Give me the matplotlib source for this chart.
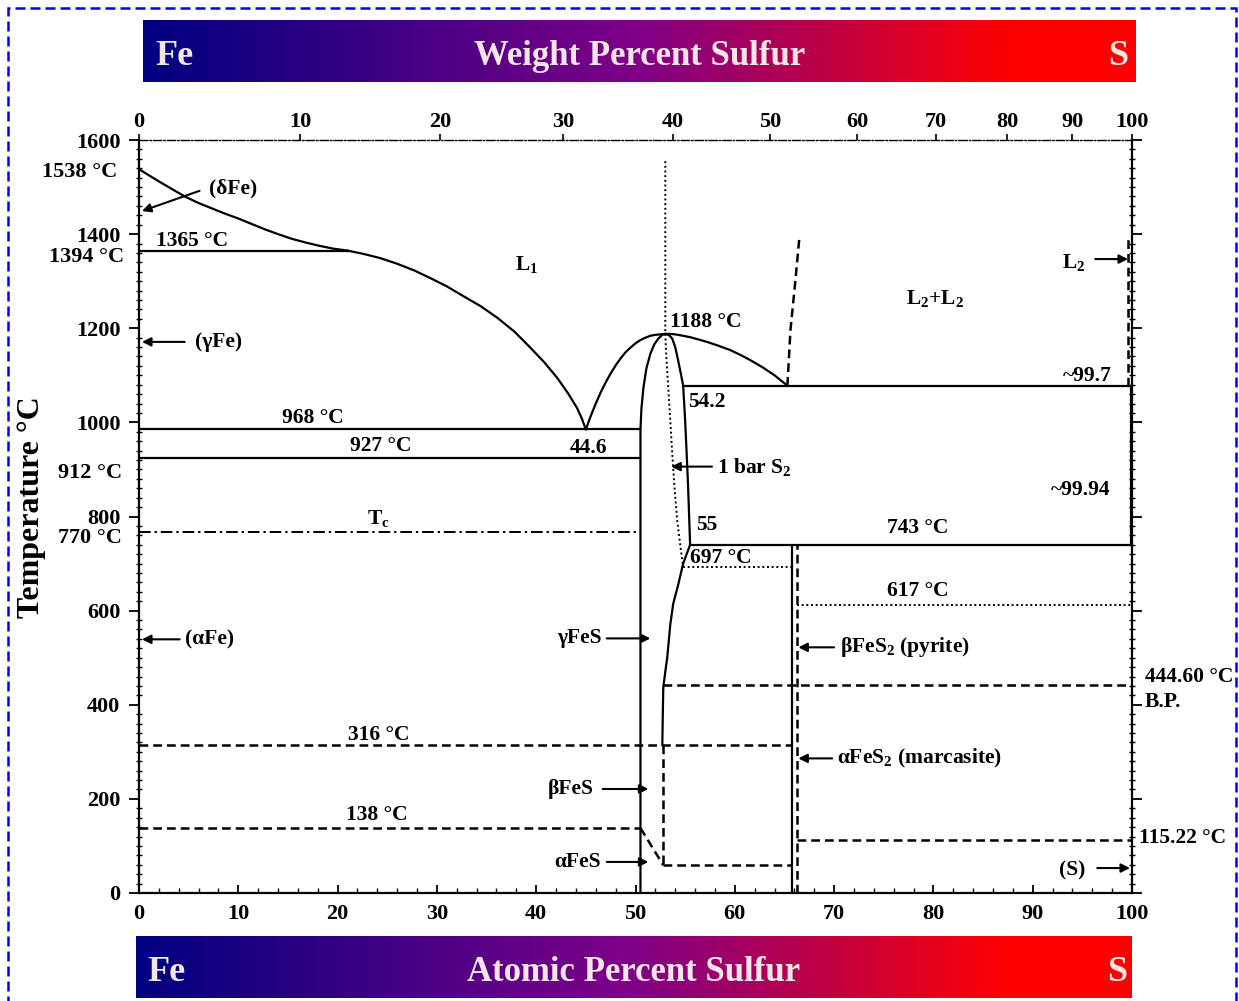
import numpy as np
import matplotlib
matplotlib.use('Agg')
import matplotlib.pyplot as plt
from matplotlib.colors import LinearSegmentedColormap
from matplotlib.patches import Rectangle

plt.rcParams['font.family'] = ['Liberation Serif', 'DejaVu Serif']
plt.rcParams['font.weight'] = 'bold'
plt.rcParams['mathtext.fontset'] = 'custom'
plt.rcParams['mathtext.rm'] = 'Liberation Serif:bold'
plt.rcParams['mathtext.it'] = 'Liberation Serif:bold'
plt.rcParams['mathtext.bf'] = 'Liberation Serif:bold'

# ---------------- data (atomic % S, temperature °C) ----------------
delta_liq_x = [0, 1.0, 2.0, 3.3, 4.7, 6.0, 7.3, 8.6, 9.9, 11.3, 12.7, 14.0, 15.4, 16.8, 18.2, 19.6, 21.0]
delta_liq_T = [1538, 1525, 1512, 1496, 1479, 1466, 1455, 1444, 1434, 1422, 1410, 1400, 1390, 1382, 1375, 1369, 1365]
L1_liq_x = [21.0, 22.6, 24.3, 26.0, 27.7, 29.3, 31.0, 32.6, 34.4, 36.1, 37.8, 39.4,
            40.8, 42.1, 43.2, 44.1, 44.6, 45.0]
L1_liq_T = [1365, 1358, 1349, 1337, 1323, 1307, 1289, 1269, 1247, 1222, 1193, 1159,
            1128, 1095, 1062, 1031, 1008, 985]
FeS_liq_left_x = [45.0, 45.5, 46.0, 46.5, 47.0, 47.5, 48.0, 48.5, 49.0, 49.5, 50.0,
                  50.5, 51.0, 51.5, 52.0, 52.5, 53.0]
FeS_liq_left_T = [985, 1014, 1040, 1064, 1085, 1104, 1121, 1136, 1149, 1159, 1168,
                  1175, 1180, 1184, 1186, 1187, 1188]
FeS_liq_right_x = [53.0, 53.5, 54.0, 54.8, 55.5, 56.2, 57.2, 58.2, 59.5, 60.5, 61.5,
                   62.8, 64.0, 65.3]
FeS_liq_right_T = [1188, 1188, 1187, 1184, 1181, 1177, 1171, 1164, 1154, 1144, 1133,
                   1117, 1100, 1078]
miscib_x = [65.3, 65.6, 66.1, 66.5]
miscib_T = [1078, 1195, 1301, 1392]
FeS_fe_side_x = [50.5, 50.5, 50.6, 50.8, 51.1, 51.5, 51.9, 52.3, 52.7, 53.0]
FeS_fe_side_T = [0, 985, 1030, 1074, 1115, 1146, 1166, 1178, 1186, 1188]
FeS_s_side_x = [53.0, 53.4, 53.7, 54.0, 54.3, 54.6, 54.8, 55.0, 55.15, 55.3, 55.5,
                54.8, 54.3, 53.8, 53.5, 53.2, 53.0, 52.8, 52.75, 52.7]
FeS_s_side_T = [1188, 1185, 1178, 1160, 1131, 1100, 1078, 1004, 935, 862, 740,
                700, 655, 615, 570, 501, 470, 437, 380, 314]
FeS_s_low_x = [52.8, 52.8]
FeS_s_low_T = [314, 59]
bar_S2_x = [53.0, 53.0, 53.1, 53.3, 53.5, 53.7, 53.9, 54.2, 54.5, 54.8]
bar_S2_T = [1555, 1188, 1140, 1074, 1005, 934, 870, 792, 740, 693]
FeS_trans_x = [50.5, 52.8]
FeS_trans_T = [138, 59]
pyrite_x = [65.8, 65.8]
pyrite_T = [0, 740]
marcasite_x = [66.3, 66.3]
marcasite_T = [0, 740]
L2_x = [99.6, 99.6]
L2_T = [1078, 1392]
S_side_x = [99.85, 99.85]
S_side_T = [740, 1078]

# isotherms: temperature, start, end
solid_iso_T = [1365, 985, 925, 1078, 740]
solid_iso_x0 = [0, 0, 0, 54.8, 55.5]
solid_iso_x1 = [21.0, 50.5, 50.5, 100, 100]
dashed_iso_T = [314, 138, 59, 442, 112]
dashed_iso_x0 = [0, 0, 52.8, 52.8, 66.3]
dashed_iso_x1 = [65.8, 50.5, 65.8, 100, 100]
dotted_iso_T = [693, 612]
dotted_iso_x0 = [54.8, 66.3]
dotted_iso_x1 = [65.8, 100]
curie_T = 768
curie_x0, curie_x1 = 0, 50.5

temp_ticks = [0, 200, 400, 600, 800, 1000, 1200, 1400, 1600]
at_ticks = [0, 10, 20, 30, 40, 50, 60, 70, 80, 90, 100]
wt_ticks = [0, 10, 20, 30, 40, 50, 60, 70, 80, 90, 100]

M_FE, M_S = 55.845, 32.06


def wt_to_at(w):
    w = np.asarray(w, dtype=float)
    s = w / M_S
    f = (100 - w) / M_FE
    return 100 * s / (s + f)


W, H = 1239, 1001
fig = plt.figure(figsize=(W / 100, H / 100), dpi=100)

# outer dashed blue frame
fig.patches.append(Rectangle((8 / W, -0.01), (1236 - 8) / W, 1 - 8 / H + 0.01,
                             transform=fig.transFigure, fill=False, edgecolor='#0000ff',
                             lw=1.8, linestyle=(0, (4, 2))))

ax = fig.add_axes([139 / W, 1 - 893 / H, 993 / W, 753 / H])
ax.set_xlim(0, 100)
ax.set_ylim(0, 1600)

K = 'black'
LW = 1.6
DASH = (0, (3.5, 2.0))
DOT = (0, (1, 1.4))

def curve(x, T, **kw):
    ax.plot(x, T, color=K, solid_joinstyle='round', solid_capstyle='round', **kw)

curve(delta_liq_x, delta_liq_T, lw=LW)
curve(L1_liq_x, L1_liq_T, lw=LW)
curve(FeS_liq_left_x, FeS_liq_left_T, lw=LW)
curve(FeS_liq_right_x, FeS_liq_right_T, lw=LW)
curve(miscib_x, miscib_T, lw=1.8, linestyle=DASH)
curve(FeS_fe_side_x, FeS_fe_side_T, lw=LW)
curve(FeS_s_side_x, FeS_s_side_T, lw=LW)
curve(FeS_s_low_x, FeS_s_low_T, lw=1.8, linestyle=DASH)
curve(bar_S2_x, bar_S2_T, lw=1.4, linestyle=DOT)
curve(FeS_trans_x, FeS_trans_T, lw=1.8, linestyle=DASH)
curve(pyrite_x, pyrite_T, lw=LW)
curve(marcasite_x, marcasite_T, lw=1.8, linestyle=DASH)
curve(L2_x, L2_T, lw=1.8, linestyle=DASH)
curve(S_side_x, S_side_T, lw=LW)

for T, a, b in zip(solid_iso_T, solid_iso_x0, solid_iso_x1):
    ax.plot([a, b], [T, T], color=K, lw=LW)
for T, a, b in zip(dashed_iso_T, dashed_iso_x0, dashed_iso_x1):
    ax.plot([a, b], [T, T], color=K, lw=1.8, linestyle=DASH)
for T, a, b in zip(dotted_iso_T, dotted_iso_x0, dotted_iso_x1):
    ax.plot([a, b], [T, T], color=K, lw=1.4, linestyle=DOT)
ax.plot([curie_x0, curie_x1], [curie_T, curie_T], color=K, lw=1.4,
        linestyle=(0, (6, 2, 1.2, 2)))

# ---------------- axes styling ----------------
for s in ['left', 'bottom', 'right']:
    ax.spines[s].set_linewidth(1.6)
ax.spines['top'].set_linewidth(1.0)
ax.spines['top'].set_linestyle((0, (6, 1.5, 1, 1.5)))

ax.set_yticks(temp_ticks)
ax.set_yticks(np.arange(0, 1601, 20), minor=True)
ax.set_xticks(at_ticks)
ax.set_xticks(np.arange(0, 101, 2), minor=True)
ax.tick_params(axis='y', which='major', direction='out', length=7, width=1.3,
               labelsize=16, pad=6.5, right=True)
ax.tick_params(axis='y', which='minor', direction='inout', length=4, width=1.0, right=True)
ax.tick_params(axis='x', which='major', direction='in', length=6, width=1.3,
               labelsize=16, pad=8, top=True)
ax.tick_params(axis='x', which='minor', direction='in', length=3.5, width=1.0, top=True)
for lab in ax.get_xticklabels() + ax.get_yticklabels():
    lab.set_fontweight('bold')

ax2 = ax.twiny()
ax2.set_xlim(0, 100)
ax2.set_xticks(wt_to_at(wt_ticks))
ax2.set_xticklabels([str(v) for v in wt_ticks], fontsize=16, fontweight='bold')
ax2.tick_params(axis='x', direction='out', length=4.5, width=1.2, pad=1.0)
for s in ax2.spines.values():
    s.set_visible(False)

fig.text(32 / W, 1 - 507 / H, 'Temperature °C', rotation=90, fontsize=23,
         fontweight='bold', ha='center', va='center')

FS = 15.5
def txt(x, y, s, ha='center', va='center'):
    ax.text(x, y, s, ha=ha, va=va, fontsize=FS, fontweight='bold', clip_on=False)

# left temperature labels
for x, y, s in [(-2.2, 1532, '1538 °C'), (-1.5, 1352, '1394 °C'),
                (-1.7, 893, '912 °C'), (-1.7, 755, '770 °C')]:
    ax.text(x, y, s, ha='right', va='center', fontsize=16, fontweight='bold', clip_on=False)

txt(5.3, 1386, '1365 °C')
txt(39.0, 1335, 'L$_1$')
txt(17.5, 1010, '968 °C')
txt(24.3, 949, '927 °C')
txt(45.3, 946, '44.6')
txt(24.1, 796, 'T$_c$')
txt(24.1, 335, '316 °C')
txt(23.9, 166, '138 °C')
txt(57.1, 1214, '1188 °C')
txt(57.2, 1044, '54.2')
txt(57.2, 783, '55')
txt(58.6, 711, '697 °C')
txt(80.2, 1263, 'L$_2$+L$_2$')
txt(95.5, 1099, '~99.7')
txt(94.8, 857, '~99.94')
txt(78.4, 775, '743 °C')
txt(78.4, 641, '617 °C')
txt(101.3, 460, '444.60 °C', ha='left')
txt(101.3, 405, 'B.P.', ha='left')
txt(100.7, 117, '115.22 °C', ha='left')

AP = dict(arrowstyle='-|>', color='black', lw=1.5, mutation_scale=13, shrinkA=0, shrinkB=0)
def arrow(text, tx, ty, x0, y0, x1, y1, ha):
    ax.annotate('', xy=(x1, y1), xytext=(x0, y0), arrowprops=AP, annotation_clip=False)
    ax.text(tx, ty, text, ha=ha, va='center', fontsize=FS, fontweight='bold', clip_on=False)

arrow('(δFe)', 7.0, 1498, 6.1, 1492, 0.3, 1449, 'left')
arrow('(γFe)', 5.6, 1171, 4.6, 1171, 0.3, 1171, 'left')
arrow('(αFe)', 4.6, 539, 4.1, 539, 0.3, 539, 'left')
arrow('γFeS', 46.6, 541, 47.1, 541, 51.5, 541, 'right')
arrow('βFeS', 45.8, 221, 46.7, 221, 51.3, 221, 'right')
arrow('αFeS', 46.5, 66, 47.1, 66, 51.3, 66, 'right')
arrow('1 bar S$_2$', 58.2, 906, 57.7, 906, 53.6, 906, 'left')
arrow('βFeS$_2$ (pyrite)', 70.6, 522, 70.0, 522, 66.4, 522, 'left')
arrow('αFeS$_2$ (marcasite)', 70.3, 286, 69.8, 286, 66.4, 286, 'left')
arrow('L$_2$', 95.3, 1339, 96.3, 1347, 99.6, 1347, 'right')
arrow('(S)', 95.3, 47, 96.5, 53, 99.8, 53, 'right')

# ---------------- gradient header/footer bars ----------------
cmap = LinearSegmentedColormap.from_list(
    'bar', [(0, '#000080'), (0.5, '#800088'), (0.88, '#ff0000'), (1, '#ff0000')])
grad = np.linspace(0, 1, 512)[None, :]
TC = '#f3e6e6'
bars = [((143 / W, 1 - 82 / H, 993 / W, 62 / H), 'Weight Percent Sulfur', 0.012, 0.992, 0.5005),
        ((136 / W, 1 - 998 / H, 996 / W, 62 / H), 'Atomic Percent Sulfur', 0.011, 0.995, 0.5)]
for rect, title, xl, xr, xc in bars:
    bax = fig.add_axes(rect)
    bax.imshow(grad, aspect='auto', cmap=cmap, extent=[0, 1, 0, 1])
    bax.set_xlim(0, 1)
    bax.set_ylim(0, 1)
    bax.set_axis_off()
    bax.text(xl, 0.28, 'Fe', ha='left', va='baseline', fontsize=26, fontweight='bold', color=TC)
    bax.text(xc, 0.28, title, ha='center', va='baseline', fontsize=25, fontweight='bold', color=TC)
    bax.text(xr, 0.28, 'S', ha='right', va='baseline', fontsize=26, fontweight='bold', color=TC)

fig.savefig('out.png', dpi=100)
